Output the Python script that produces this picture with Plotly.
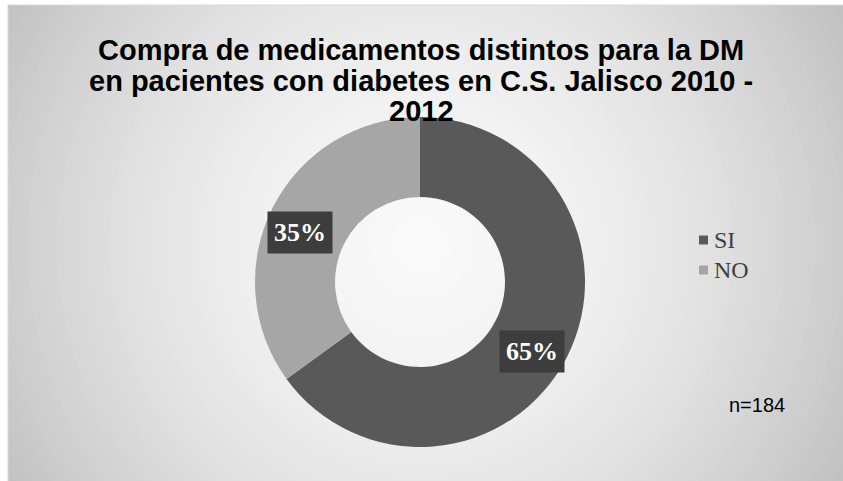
import plotly.graph_objects as go
import math

# Data
categories = ["SI", "NO"]
values = [65, 35]
colors = ["#595959", "#a6a6a6"]
title_lines = ["Compra de medicamentos distintos para la DM",
               "en pacientes con diabetes en C.S. Jalisco 2010 -",
               "2012"]
sample_note = "n=184"

W, H = 843, 481

fig = go.Figure()

# Donut geometry (pixels)
cx, cy, r_out, hole = 420, 282, 165, 0.515

fig.add_trace(go.Pie(
    labels=categories,
    values=values,
    sort=False,
    direction="clockwise",
    rotation=0,
    hole=hole,
    marker=dict(colors=colors, line=dict(width=0)),
    textinfo="none",
    hoverinfo="label+percent",
    showlegend=False,
    domain=dict(x=[(cx - r_out) / W, (cx + r_out) / W],
                y=[1 - (cy + r_out) / H, 1 - (cy - r_out) / H]),
))

# Radial gradient background built from concentric circles
shapes = []
gcx, gcy = 421, 245
rmax = 520
n = 70
for i in range(n):
    rr = rmax * (1 - i / n)
    t = min(rr / 490, 1.05)
    v = int(round(249 - 57 * t ** 1.7))
    v = max(0, min(255, v))
    shapes.append(dict(type="circle", xref="paper", yref="paper", layer="below",
                       x0=(gcx - rr) / W, x1=(gcx + rr) / W,
                       y0=1 - (gcy + rr) / H, y1=1 - (gcy - rr) / H,
                       fillcolor=f"rgb({v},{v},{v})", line=dict(width=0)))
# white outside the chart frame
shapes.append(dict(type="rect", xref="paper", yref="paper", layer="below",
                   x0=0, x1=8 / W, y0=0, y1=1, fillcolor="white", line=dict(width=0)))
shapes.append(dict(type="rect", xref="paper", yref="paper", layer="below",
                   x0=0, x1=1, y0=1 - 5 / H, y1=1, fillcolor="white", line=dict(width=0)))
# frame border
shapes.append(dict(type="rect", xref="paper", yref="paper", layer="below",
                   x0=8 / W, x1=1.01, y0=-0.01, y1=1 - 5 / H,
                   fillcolor="rgba(0,0,0,0)", line=dict(width=1, color="#d9d9d9")))

annotations = []

# Percentage labels placed on each ring segment (nudged slightly down-left)
total = sum(values)
label_r = 130
nudge_x, nudge_y = -4, 10
cum = 0
for cat, val in zip(categories, values):
    mid = (cum + val / 2) / total * 2 * math.pi
    cum += val
    lx = cx + label_r * math.sin(mid) + nudge_x
    ly = cy - label_r * math.cos(mid) + nudge_y
    txt = f"{round(val / total * 100)}%"
    annotations.append(dict(x=lx / W, y=1 - ly / H, xref="paper", yref="paper",
                            xanchor="center", yanchor="middle",
                            text=f"<b>{txt}</b>", showarrow=False,
                            font=dict(family="Liberation Serif", size=26, color="white"),
                            bgcolor="#3d3d3d", borderpad=6))

# Title, one annotation per line for tight line spacing
for k, (line, ty) in enumerate(zip(title_lines, [50, 81, 111])):
    annotations.append(dict(x=421 / W, y=1 - ty / H, xref="paper", yref="paper",
                            xanchor="center", yanchor="middle",
                            text=f"<b>{line}</b>", showarrow=False,
                            font=dict(family="Liberation Sans", size=29, color="black")))

# Legend: colored squares with serif labels
for k, (cat, col) in enumerate(zip(categories, colors)):
    ly = 240 + 30 * k
    shapes.append(dict(type="rect", xref="paper", yref="paper",
                       x0=699 / W, x1=708 / W, y0=1 - (ly + 4.5) / H, y1=1 - (ly - 4.5) / H,
                       fillcolor=col, line=dict(width=0)))
    annotations.append(dict(x=712 / W, y=1 - ly / H, xref="paper", yref="paper",
                            xanchor="left", yanchor="middle", text=cat, showarrow=False,
                            font=dict(family="Liberation Serif", size=24, color="#404040")))

# Sample size note
annotations.append(dict(x=757 / W, y=1 - 405 / H, xref="paper", yref="paper",
                        xanchor="center", yanchor="middle",
                        text=sample_note, showarrow=False,
                        font=dict(family="Liberation Sans", size=20, color="black")))

fig.update_layout(
    width=W, height=H,
    margin=dict(l=0, r=0, t=0, b=0),
    paper_bgcolor="white",
    plot_bgcolor="rgba(0,0,0,0)",
    shapes=shapes,
    annotations=annotations,
    showlegend=False,
)

fig.write_html("out.html")
